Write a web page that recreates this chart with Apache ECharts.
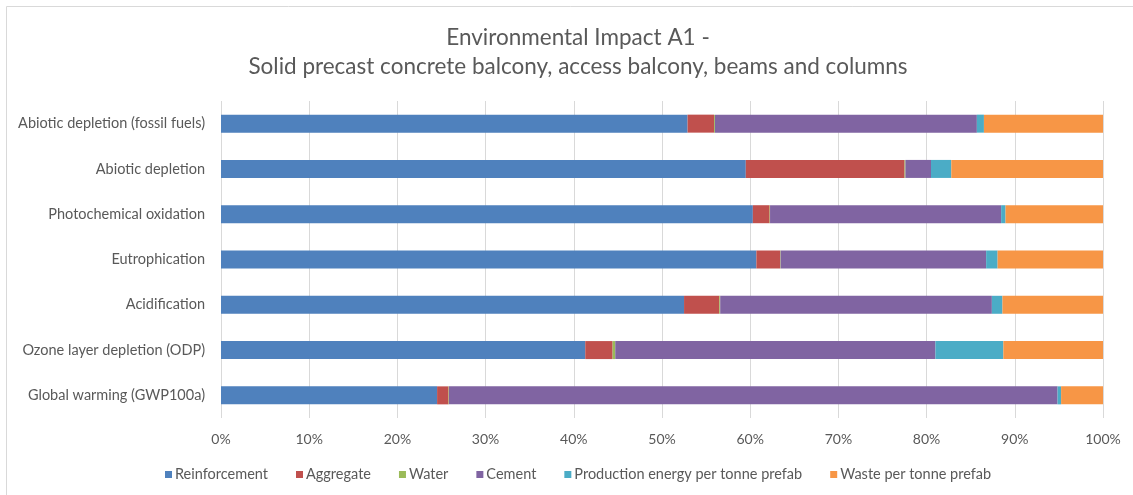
<!DOCTYPE html>
<html>
<head>
<meta charset="utf-8">
<script src="https://cdn.jsdelivr.net/npm/echarts@6/dist/echarts.min.js"></script>
<style>
  html, body { margin: 0; padding: 0; background: #fff; }
  #chart { width: 1133px; height: 495px; }
</style>
</head>
<body>
<div id="chart"></div>
<script>
// Impact categories, listed bottom-to-top as drawn on the category axis
const categories = [
  'Global warming (GWP100a)',
  'Ozone layer depletion (ODP)',
  'Acidification',
  'Eutrophication',
  'Photochemical oxidation',
  'Abiotic depletion',
  'Abiotic depletion (fossil fuels)'
];

// Share of each contributor (%) per impact category, same order as categories
const reinforcement = [24.5, 41.3, 52.5, 60.7, 60.3, 59.5, 52.9];
const aggregate     = [1.3, 3.1, 4.0, 2.7, 1.9, 18.0, 3.0];
const water         = [0.05, 0.3, 0.1, 0.05, 0.05, 0.1, 0.1];
const cement        = [69.0, 36.3, 30.8, 23.3, 26.2, 2.9, 29.7];
const prodEnergy    = [0.4, 7.7, 1.2, 1.3, 0.5, 2.3, 0.8];
const waste         = [4.8, 11.3, 11.4, 12.0, 11.1, 17.2, 13.5];

const seriesNames = [
  'Reinforcement', 'Aggregate', 'Water', 'Cement',
  'Production energy per tonne prefab', 'Waste per tonne prefab'
];
const seriesData = [reinforcement, aggregate, water, cement, prodEnergy, waste];
const colors = ['#4F81BD', '#C0504D', '#9BBB59', '#8064A2', '#4BACC6', '#F79646'];

const tickValues = [0, 10, 20, 30, 40, 50, 60, 70, 80, 90, 100];

const textColor = '#595959';
const fontFamily = 'Lato, "Open Sans", sans-serif';

const chart = echarts.init(document.getElementById('chart'), null, { renderer: 'canvas' });

chart.setOption({
  animation: false,
  color: colors,
  textStyle: { fontFamily: fontFamily, color: textColor },
  title: {
    text: 'Environmental Impact A1 -\nSolid precast concrete balcony, access balcony, beams and columns',
    left: 573,
    textAlign: 'center',
    top: 18,
    textStyle: {
      fontFamily: fontFamily,
      fontWeight: 'normal',
      fontSize: 22.5,
      lineHeight: 29,
      color: textColor
    }
  },
  graphic: [{
    type: 'rect',
    shape: { x: 6.5, y: 6.5, width: 1140, height: 500 },
    style: { fill: 'none', stroke: '#d9d9d9', lineWidth: 1 },
    silent: true,
    z: -1
  }],
  legend: {
    bottom: 8,
    left: 160,
    itemWidth: 7,
    itemHeight: 7,
    itemGap: 28,
    icon: 'rect',
    textStyle: { fontFamily: fontFamily, fontSize: 14.5, color: textColor, padding: [0, 0, 0, -2] },
    data: seriesNames
  },
  grid: {
    left: 221,
    right: 30,
    top: 101,
    bottom: 77,
    containLabel: false
  },
  xAxis: {
    type: 'value',
    min: 0,
    max: 100,
    interval: 10,
    axisLine: { show: false },
    axisTick: { show: false },
    splitLine: { show: true, lineStyle: { color: '#d9d9d9', width: 1 } },
    axisLabel: {
      margin: 14,
      fontSize: 14,
      color: textColor,
      fontFamily: fontFamily,
      formatter: function (v) {
        return tickValues.indexOf(v) >= 0 ? v + '%' : '';
      }
    }
  },
  yAxis: {
    type: 'category',
    data: categories,
    axisLine: { show: false },
    axisTick: { show: false },
    axisLabel: {
      margin: 16,
      fontSize: 14.5,
      color: textColor,
      fontFamily: fontFamily
    }
  },
  series: seriesData.map(function (values, i) {
    return {
      name: seriesNames[i],
      type: 'bar',
      stack: 'total',
      barWidth: 18,
      data: values,
      itemStyle: { color: colors[i] },
      emphasis: { disabled: true }
    };
  })
});
</script>
</body>
</html>
